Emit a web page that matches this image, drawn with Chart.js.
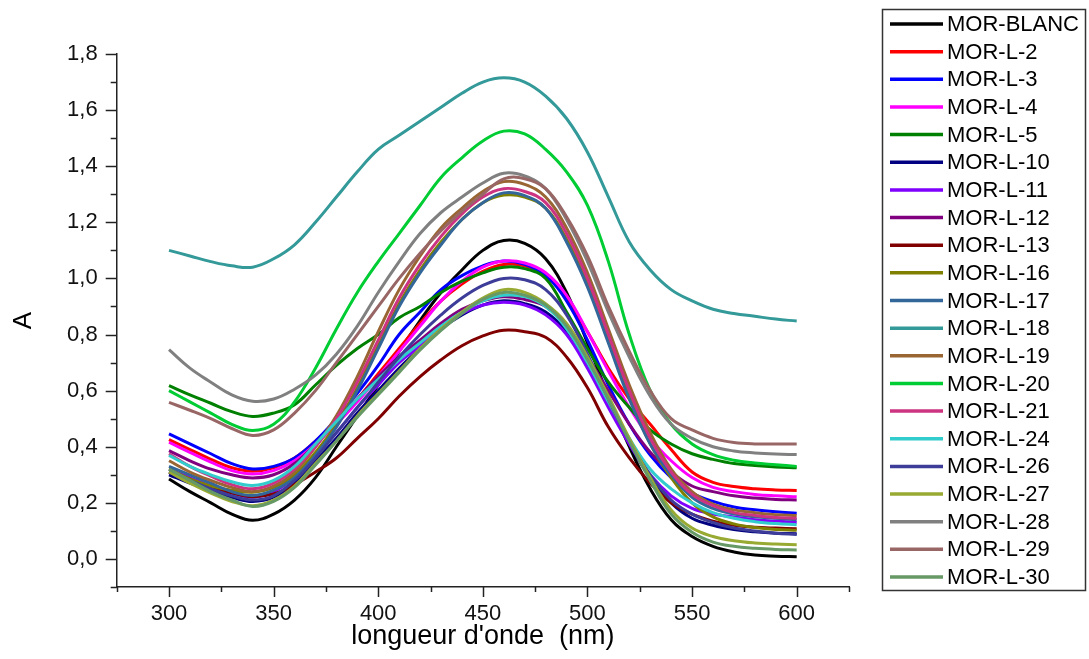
<!DOCTYPE html>
<html>
<head>
    <meta charset="UTF-8">
    <title>Spectres UV-Vis MOR</title>
    <script src="https://cdn.jsdelivr.net/npm/chart.js@4.4.0/dist/chart.umd.min.js"></script>
    <style>
        body { margin: 0; background: #fff; }
        #wrap { width: 1089px; height: 659px; }
    </style>
</head>
<body>
<div id="wrap"><canvas id="spectra" width="1089" height="659"></canvas></div>
<script>
// wavelengths (nm), one reading every 10 nm
var wavelengths = [300,310,320,330,340,350,360,370,380,390,400,410,420,430,440,450,460,470,480,490,500,510,520,530,540,550,560,570,580,590,600];

var morBlanc = [0.285,0.24,0.20,0.16,0.138,0.16,0.21,0.29,0.40,0.51,0.62,0.74,0.85,0.95,1.03,1.10,1.135,1.125,1.07,0.95,0.77,0.58,0.40,0.25,0.14,0.08,0.045,0.025,0.014,0.01,0.008];
var morL2  = [0.425,0.39,0.355,0.325,0.313,0.325,0.36,0.42,0.49,0.57,0.66,0.75,0.84,0.92,0.98,1.025,1.05,1.045,1.01,0.93,0.81,0.68,0.57,0.48,0.39,0.31,0.273,0.258,0.25,0.246,0.244];
var morL3  = [0.446,0.41,0.375,0.34,0.321,0.33,0.36,0.42,0.50,0.59,0.69,0.80,0.88,0.96,1.01,1.045,1.062,1.05,1.01,0.92,0.78,0.62,0.48,0.37,0.29,0.235,0.205,0.185,0.175,0.168,0.163];
var morL4  = [0.416,0.38,0.345,0.315,0.303,0.315,0.35,0.41,0.48,0.56,0.65,0.74,0.83,0.92,0.99,1.04,1.062,1.055,1.02,0.94,0.81,0.67,0.54,0.43,0.35,0.29,0.255,0.24,0.23,0.225,0.222];
var morL5  = [0.618,0.585,0.555,0.525,0.508,0.52,0.55,0.62,0.69,0.75,0.80,0.86,0.90,0.95,0.99,1.02,1.04,1.035,1.0,0.88,0.75,0.63,0.54,0.46,0.41,0.375,0.355,0.34,0.333,0.328,0.325];
var morL10 = [0.30,0.27,0.245,0.22,0.205,0.22,0.27,0.35,0.43,0.52,0.60,0.68,0.75,0.82,0.87,0.905,0.92,0.91,0.88,0.81,0.69,0.55,0.41,0.29,0.20,0.145,0.12,0.105,0.097,0.092,0.09];
var morL11 = [0.32,0.29,0.26,0.235,0.22,0.24,0.29,0.37,0.45,0.54,0.62,0.70,0.76,0.83,0.875,0.905,0.915,0.905,0.87,0.80,0.68,0.54,0.41,0.30,0.225,0.18,0.16,0.15,0.14,0.135,0.13];
var morL12 = [0.386,0.35,0.32,0.30,0.289,0.30,0.34,0.41,0.49,0.57,0.65,0.72,0.78,0.84,0.89,0.92,0.935,0.925,0.90,0.83,0.72,0.60,0.48,0.38,0.31,0.26,0.24,0.225,0.217,0.212,0.21];
var morL13 = [0.31,0.28,0.255,0.235,0.222,0.232,0.265,0.31,0.36,0.43,0.50,0.58,0.65,0.71,0.76,0.795,0.815,0.81,0.79,0.72,0.61,0.47,0.36,0.27,0.20,0.16,0.135,0.12,0.113,0.11,0.108];
var morL16 = [0.32,0.285,0.26,0.245,0.238,0.255,0.30,0.38,0.48,0.61,0.76,0.91,1.03,1.13,1.21,1.27,1.297,1.29,1.25,1.14,0.98,0.78,0.58,0.41,0.29,0.20,0.15,0.125,0.112,0.105,0.102];
var morL17 = [0.33,0.30,0.27,0.24,0.226,0.245,0.29,0.37,0.47,0.60,0.75,0.90,1.02,1.12,1.21,1.27,1.305,1.295,1.25,1.13,0.97,0.77,0.57,0.41,0.30,0.22,0.18,0.16,0.15,0.145,0.14];
var morL18 = [1.10,1.08,1.06,1.045,1.04,1.07,1.12,1.20,1.29,1.38,1.46,1.51,1.56,1.61,1.66,1.70,1.715,1.70,1.65,1.57,1.45,1.29,1.13,1.03,0.96,0.92,0.89,0.875,0.865,0.855,0.848];
var morL19 = [0.35,0.31,0.28,0.255,0.24,0.26,0.31,0.40,0.51,0.65,0.81,0.96,1.08,1.18,1.25,1.31,1.345,1.335,1.29,1.18,1.02,0.82,0.62,0.45,0.32,0.24,0.195,0.175,0.165,0.158,0.155];
var morL20 = [0.60,0.56,0.52,0.48,0.458,0.48,0.56,0.68,0.82,0.95,1.06,1.16,1.26,1.36,1.43,1.49,1.525,1.515,1.46,1.38,1.26,1.06,0.80,0.60,0.48,0.41,0.372,0.352,0.342,0.336,0.33];
var morL21 = [0.375,0.33,0.295,0.265,0.25,0.27,0.32,0.40,0.50,0.63,0.78,0.93,1.05,1.15,1.23,1.29,1.32,1.31,1.27,1.16,1.00,0.80,0.60,0.43,0.31,0.23,0.19,0.165,0.155,0.148,0.145];
var morL24 = [0.369,0.33,0.30,0.275,0.262,0.28,0.33,0.41,0.49,0.57,0.64,0.71,0.77,0.83,0.88,0.92,0.94,0.935,0.90,0.82,0.70,0.56,0.43,0.32,0.25,0.20,0.165,0.145,0.133,0.126,0.122];
var morL26 = [0.31,0.28,0.25,0.225,0.21,0.225,0.28,0.36,0.45,0.54,0.63,0.72,0.80,0.87,0.93,0.975,1.0,0.995,0.96,0.87,0.73,0.57,0.42,0.30,0.21,0.16,0.13,0.11,0.10,0.092,0.087];
var morL27 = [0.31,0.27,0.235,0.205,0.19,0.21,0.26,0.34,0.42,0.51,0.59,0.67,0.75,0.82,0.88,0.93,0.96,0.95,0.91,0.84,0.72,0.58,0.43,0.29,0.175,0.11,0.08,0.065,0.057,0.053,0.051];
var morL28 = [0.746,0.68,0.63,0.585,0.562,0.57,0.605,0.655,0.73,0.83,0.95,1.06,1.16,1.235,1.29,1.34,1.375,1.365,1.32,1.21,1.06,0.88,0.72,0.58,0.48,0.43,0.40,0.385,0.378,0.374,0.372];
var morL29 = [0.558,0.53,0.50,0.465,0.44,0.46,0.52,0.60,0.70,0.80,0.90,1.00,1.09,1.17,1.24,1.30,1.355,1.355,1.32,1.22,1.08,0.90,0.74,0.60,0.50,0.46,0.43,0.415,0.41,0.41,0.41];
var morL30 = [0.32,0.28,0.24,0.21,0.187,0.205,0.255,0.335,0.42,0.505,0.585,0.665,0.745,0.815,0.875,0.925,0.95,0.94,0.905,0.83,0.71,0.57,0.42,0.28,0.16,0.095,0.06,0.045,0.038,0.034,0.032];

var seriesNames = ['MOR-BLANC','MOR-L-2','MOR-L-3','MOR-L-4','MOR-L-5','MOR-L-10','MOR-L-11','MOR-L-12','MOR-L-13','MOR-L-16','MOR-L-17','MOR-L-18','MOR-L-19','MOR-L-20','MOR-L-21','MOR-L-24','MOR-L-26','MOR-L-27','MOR-L-28','MOR-L-29','MOR-L-30'];
var seriesValues = [morBlanc,morL2,morL3,morL4,morL5,morL10,morL11,morL12,morL13,morL16,morL17,morL18,morL19,morL20,morL21,morL24,morL26,morL27,morL28,morL29,morL30];
var seriesColors = ['#000000','#ff0000','#0000ff','#ff00ff','#008000','#000080','#8000ff','#800080','#800000','#808000','#336699','#339999','#996633','#00cc33','#cc3380','#33cccc','#3d3d99','#99aa33','#808080','#996666','#669966'];

var FONT = "'Liberation Sans', Arial, sans-serif";

// build datasets, last series drawn on top
var datasets = seriesNames.map(function (name, i) {
    return {
        label: name,
        data: wavelengths.map(function (w, j) { return { x: w, y: seriesValues[i][j] }; }),
        borderColor: seriesColors[i],
        backgroundColor: seriesColors[i],
        borderWidth: 3,
        pointRadius: 0,
        tension: 0.4,
        fill: false,
        order: seriesNames.length - i
    };
});

// axis ticks (major/minor) and the boxed legend
var decor = {
    id: 'decor',
    afterDraw: function (chart) {
        var ctx = chart.ctx;
        var xs = chart.scales.x, ys = chart.scales.y;
        ctx.save();
        ctx.strokeStyle = '#222';
        ctx.lineWidth = 1.5;
        xs.ticks.forEach(function (t) {
            var px = Math.round(xs.getPixelForValue(t.value)) + 0.5;
            var len = (t.value % 50 === 0) ? 10 : 5;
            ctx.beginPath();
            ctx.moveTo(px, xs.top);
            ctx.lineTo(px, xs.top + len);
            ctx.stroke();
        });
        ys.ticks.forEach(function (t) {
            var py = Math.round(ys.getPixelForValue(t.value)) + 0.5;
            var len = (Math.round(t.value * 10) % 2 === 0) ? 11 : 6;
            ctx.beginPath();
            ctx.moveTo(ys.right, py);
            ctx.lineTo(ys.right - len, py);
            ctx.stroke();
        });

        // legend box
        var lx = 882, ly = 9, lw = 203, lh = 581, step = 27.65, firstY = 24;
        ctx.lineWidth = 1.5;
        ctx.strokeStyle = '#333';
        ctx.strokeRect(lx + 0.5, ly + 0.5, lw, lh);
        ctx.font = '22px ' + FONT;
        ctx.textBaseline = 'middle';
        ctx.textAlign = 'left';
        seriesNames.forEach(function (name, i) {
            var y = firstY + i * step;
            ctx.strokeStyle = seriesColors[i];
            ctx.lineWidth = 3.5;
            ctx.beginPath();
            ctx.moveTo(890, y);
            ctx.lineTo(943, y);
            ctx.stroke();
            ctx.fillStyle = '#000';
            ctx.fillText(name, 947, y + 1);
        });
        ctx.restore();
    }
};

new Chart(document.getElementById('spectra'), {
    type: 'line',
    data: { datasets: datasets },
    plugins: [decor],
    options: {
        responsive: false,
        animation: false,
        devicePixelRatio: 1,
        layout: { padding: { left: 0, top: 54, right: 240, bottom: 0 } },
        plugins: {
            legend: { display: false },
            tooltip: { enabled: false }
        },
        scales: {
            x: {
                type: 'linear',
                min: 275,
                max: 625,
                afterFit: function (scale) { scale.height = 72; },
                grid: { display: false },
                border: { display: true, color: '#222', width: 1.5 },
                ticks: {
                    stepSize: 25,
                    padding: 6,
                    maxRotation: 0,
                    autoSkip: false,
                    color: '#111',
                    font: { family: FONT, size: 22 },
                    callback: function (v) { return v % 50 === 0 ? String(v) : ''; }
                },
                title: {
                    display: true,
                    text: "longueur d'onde  (nm)",
                    color: '#000',
                    font: { family: FONT, size: 27, lineHeight: 1.2 },
                    padding: { top: 0, bottom: 6 }
                }
            },
            y: {
                min: -0.1,
                max: 1.8,
                afterFit: function (scale) { scale.width = 116.7; },
                grid: { display: false },
                border: { display: true, color: '#222', width: 1.5 },
                ticks: {
                    stepSize: 0.1,
                    padding: 11,
                    autoSkip: false,
                    color: '#111',
                    font: { family: FONT, size: 22 },
                    callback: function (v) {
                        var k = Math.round(v * 10);
                        return (k % 2 === 0 && k >= 0) ? (k / 10).toFixed(1).replace('.', ',') : '';
                    }
                },
                title: {
                    display: true,
                    text: 'A',
                    color: '#000',
                    font: { family: FONT, size: 26, lineHeight: 1.2 },
                    padding: { top: 8, bottom: 0 }
                }
            }
        }
    }
});
</script>
</body>
</html>
